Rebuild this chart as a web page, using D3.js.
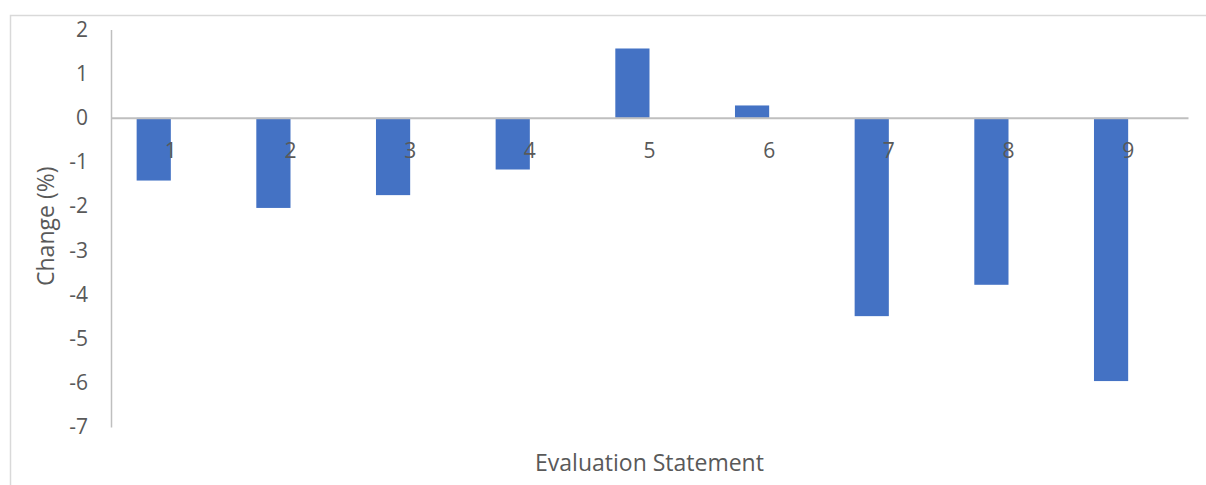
<!DOCTYPE html>
<html>
<head>
<meta charset="utf-8">
<script src="https://cdn.jsdelivr.net/npm/d3@7"></script>
<style>
  html, body { margin: 0; padding: 0; background: #fff; }
  svg { display: block; }
</style>
</head>
<body>
<svg id="chart" width="1206" height="485"></svg>
<script>
// Change per evaluation statement (%)
const categories = ["1", "2", "3", "4", "5", "6", "7", "8", "9"];
const changeValues = [-1.42, -2.04, -1.75, -1.17, 1.57, 0.28, -4.49, -3.78, -5.96];
const yTicks = [2, 1, 0, -1, -2, -3, -4, -5, -6, -7];

const svg = d3.select("#chart");
const W = 1206, H = 485;
const margin = { left: 111, right: 18, top: 29.5, bottom: 58 };
const font = "'Open Sans', 'Noto Sans', sans-serif";
const textColor = "#595959";
const axisColor = "#bfbfbf";
const tickSize = "21px";
const titleSize = "23px";

// chart frame
svg.append("path")
  .attr("d", `M10.5,${H} V15.5 H${W}`)
  .attr("fill", "none")
  .attr("stroke", "#d9d9d9")
  .attr("stroke-width", 1.5);

const x = d3.scaleBand()
  .domain(categories)
  .range([margin.left, W - margin.right]);

const y = d3.scaleLinear()
  .domain([-7, 2])
  .range([H - margin.bottom, margin.top]);

// bar sits in the left half of each category slot (second series slot is empty)
const barW = x.bandwidth() / 3.5;

svg.append("g")
  .selectAll("rect")
  .data(changeValues)
  .join("rect")
  .attr("x", (d, i) => x(categories[i]) + x.bandwidth() / 2 - barW)
  .attr("width", barW)
  .attr("y", d => y(Math.max(0, d)))
  .attr("height", d => Math.abs(y(d) - y(0)))
  .attr("fill", "#4472c4");

// vertical value axis
const yAxis = svg.append("g")
  .attr("transform", `translate(${margin.left},0)`)
  .call(d3.axisLeft(y).tickValues(yTicks).tickSize(0).tickPadding(23).tickFormat(d => String(d)));
yAxis.select(".domain").attr("stroke", axisColor).attr("stroke-width", 1.5);
yAxis.selectAll("text")
  .attr("fill", textColor)
  .style("font-family", font)
  .style("font-size", tickSize);

// horizontal zero line with category labels
const xAxis = svg.append("g")
  .attr("transform", `translate(0,${y(0)})`)
  .call(d3.axisBottom(x).tickSize(0).tickPadding(25));
xAxis.select(".domain").attr("stroke", axisColor).attr("stroke-width", 2);
xAxis.selectAll("text")
  .attr("fill", textColor)
  .style("font-family", font)
  .style("font-size", tickSize);

// axis titles
svg.append("text")
  .attr("transform", `translate(54,${(margin.top + H - margin.bottom) / 2 - 2}) rotate(-90)`)
  .attr("text-anchor", "middle")
  .attr("fill", textColor)
  .style("font-family", font)
  .style("font-size", titleSize)
  .text("Change (%)");

svg.append("text")
  .attr("x", (margin.left + W - margin.right) / 2)
  .attr("y", 471)
  .attr("text-anchor", "middle")
  .attr("fill", textColor)
  .style("font-family", font)
  .style("font-size", titleSize)
  .text("Evaluation Statement");
</script>
</body>
</html>
